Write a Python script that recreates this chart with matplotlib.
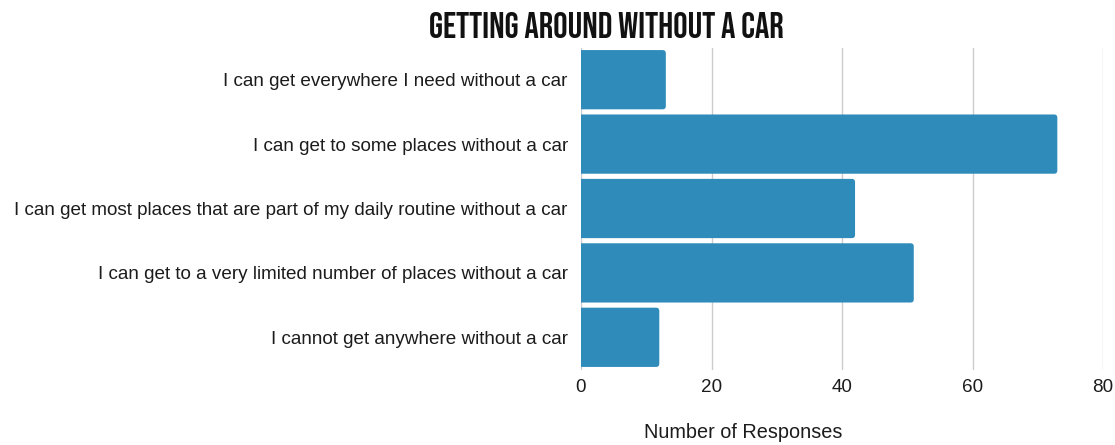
import matplotlib
matplotlib.use("Agg")
import matplotlib.pyplot as plt
from matplotlib.patches import FancyBboxPatch

categories = [
    "I can get everywhere I need without a car",
    "I can get to some places without a car",
    "I can get most places that are part of my daily routine without a car",
    "I can get to a very limited number of places without a car",
    "I cannot get anywhere without a car",
]
responses = [13, 73, 42, 51, 12]
x_ticks = [0, 20, 40, 60, 80]

BAR_COLOR = "#2e8bba"
TEXT_COLOR = "#1c1c1c"

plt.rcParams["font.family"] = ["Liberation Sans", "DejaVu Sans"]

fig = plt.figure(figsize=(11.15, 4.45), dpi=100)
ax = fig.add_axes([581 / 1115, 1 - 369.5 / 445, 522 / 1115, 322 / 445])

ypos = list(range(len(categories)))
bars = ax.barh(ypos, responses, height=0.92, color=BAR_COLOR, zorder=3)

ax.set_xlim(0, 80)
ax.set_ylim(len(categories) - 0.5, -0.5)

# swap the plain rectangles for ones with softly rounded corners
fig.canvas.draw()
x_px = ax.transData.transform((1, 0))[0] - ax.transData.transform((0, 0))[0]
y_px = abs(ax.transData.transform((0, 1))[1] - ax.transData.transform((0, 0))[1])
radius = 0.5
aspect = x_px / y_px
for b in bars:
    x0, y0, w, h = b.get_x(), b.get_y(), b.get_width(), b.get_height()
    b.set_visible(False)
    patch = FancyBboxPatch(
        (x0 - 1.0, y0), w + 1.0, h,
        boxstyle=f"round,pad=0,rounding_size={radius}",
        mutation_aspect=aspect,
        facecolor=BAR_COLOR, edgecolor="none", zorder=3,
    )
    ax.add_patch(patch)

ax.set_xticks(x_ticks)
ax.set_xticklabels([str(t) for t in x_ticks])
ax.set_yticks(ypos)
ax.set_yticklabels(categories)
ax.tick_params(axis="both", length=0, labelsize=13.6, colors=TEXT_COLOR)
ax.tick_params(axis="x", pad=7)
ax.tick_params(axis="y", pad=9.5)

ax.grid(axis="x", color="#cccccc", linewidth=1.0, zorder=0)
ax.set_axisbelow(True)
for s in ax.spines.values():
    s.set_visible(False)

fig.text(743 / 1115, 1 - 432 / 445, "Number of Responses", ha="center", va="center",
         fontsize=14.3, color=TEXT_COLOR)

fig.text(606.5 / 1115, 1 - 24.5 / 445, "GETTING AROUND WITHOUT A CAR", ha="center", va="center",
         fontsize=25.9, color="#111111",
         family=["Bebas Neue", "DejaVu Sans"])

fig.savefig("out.png", dpi=100, facecolor="white")
